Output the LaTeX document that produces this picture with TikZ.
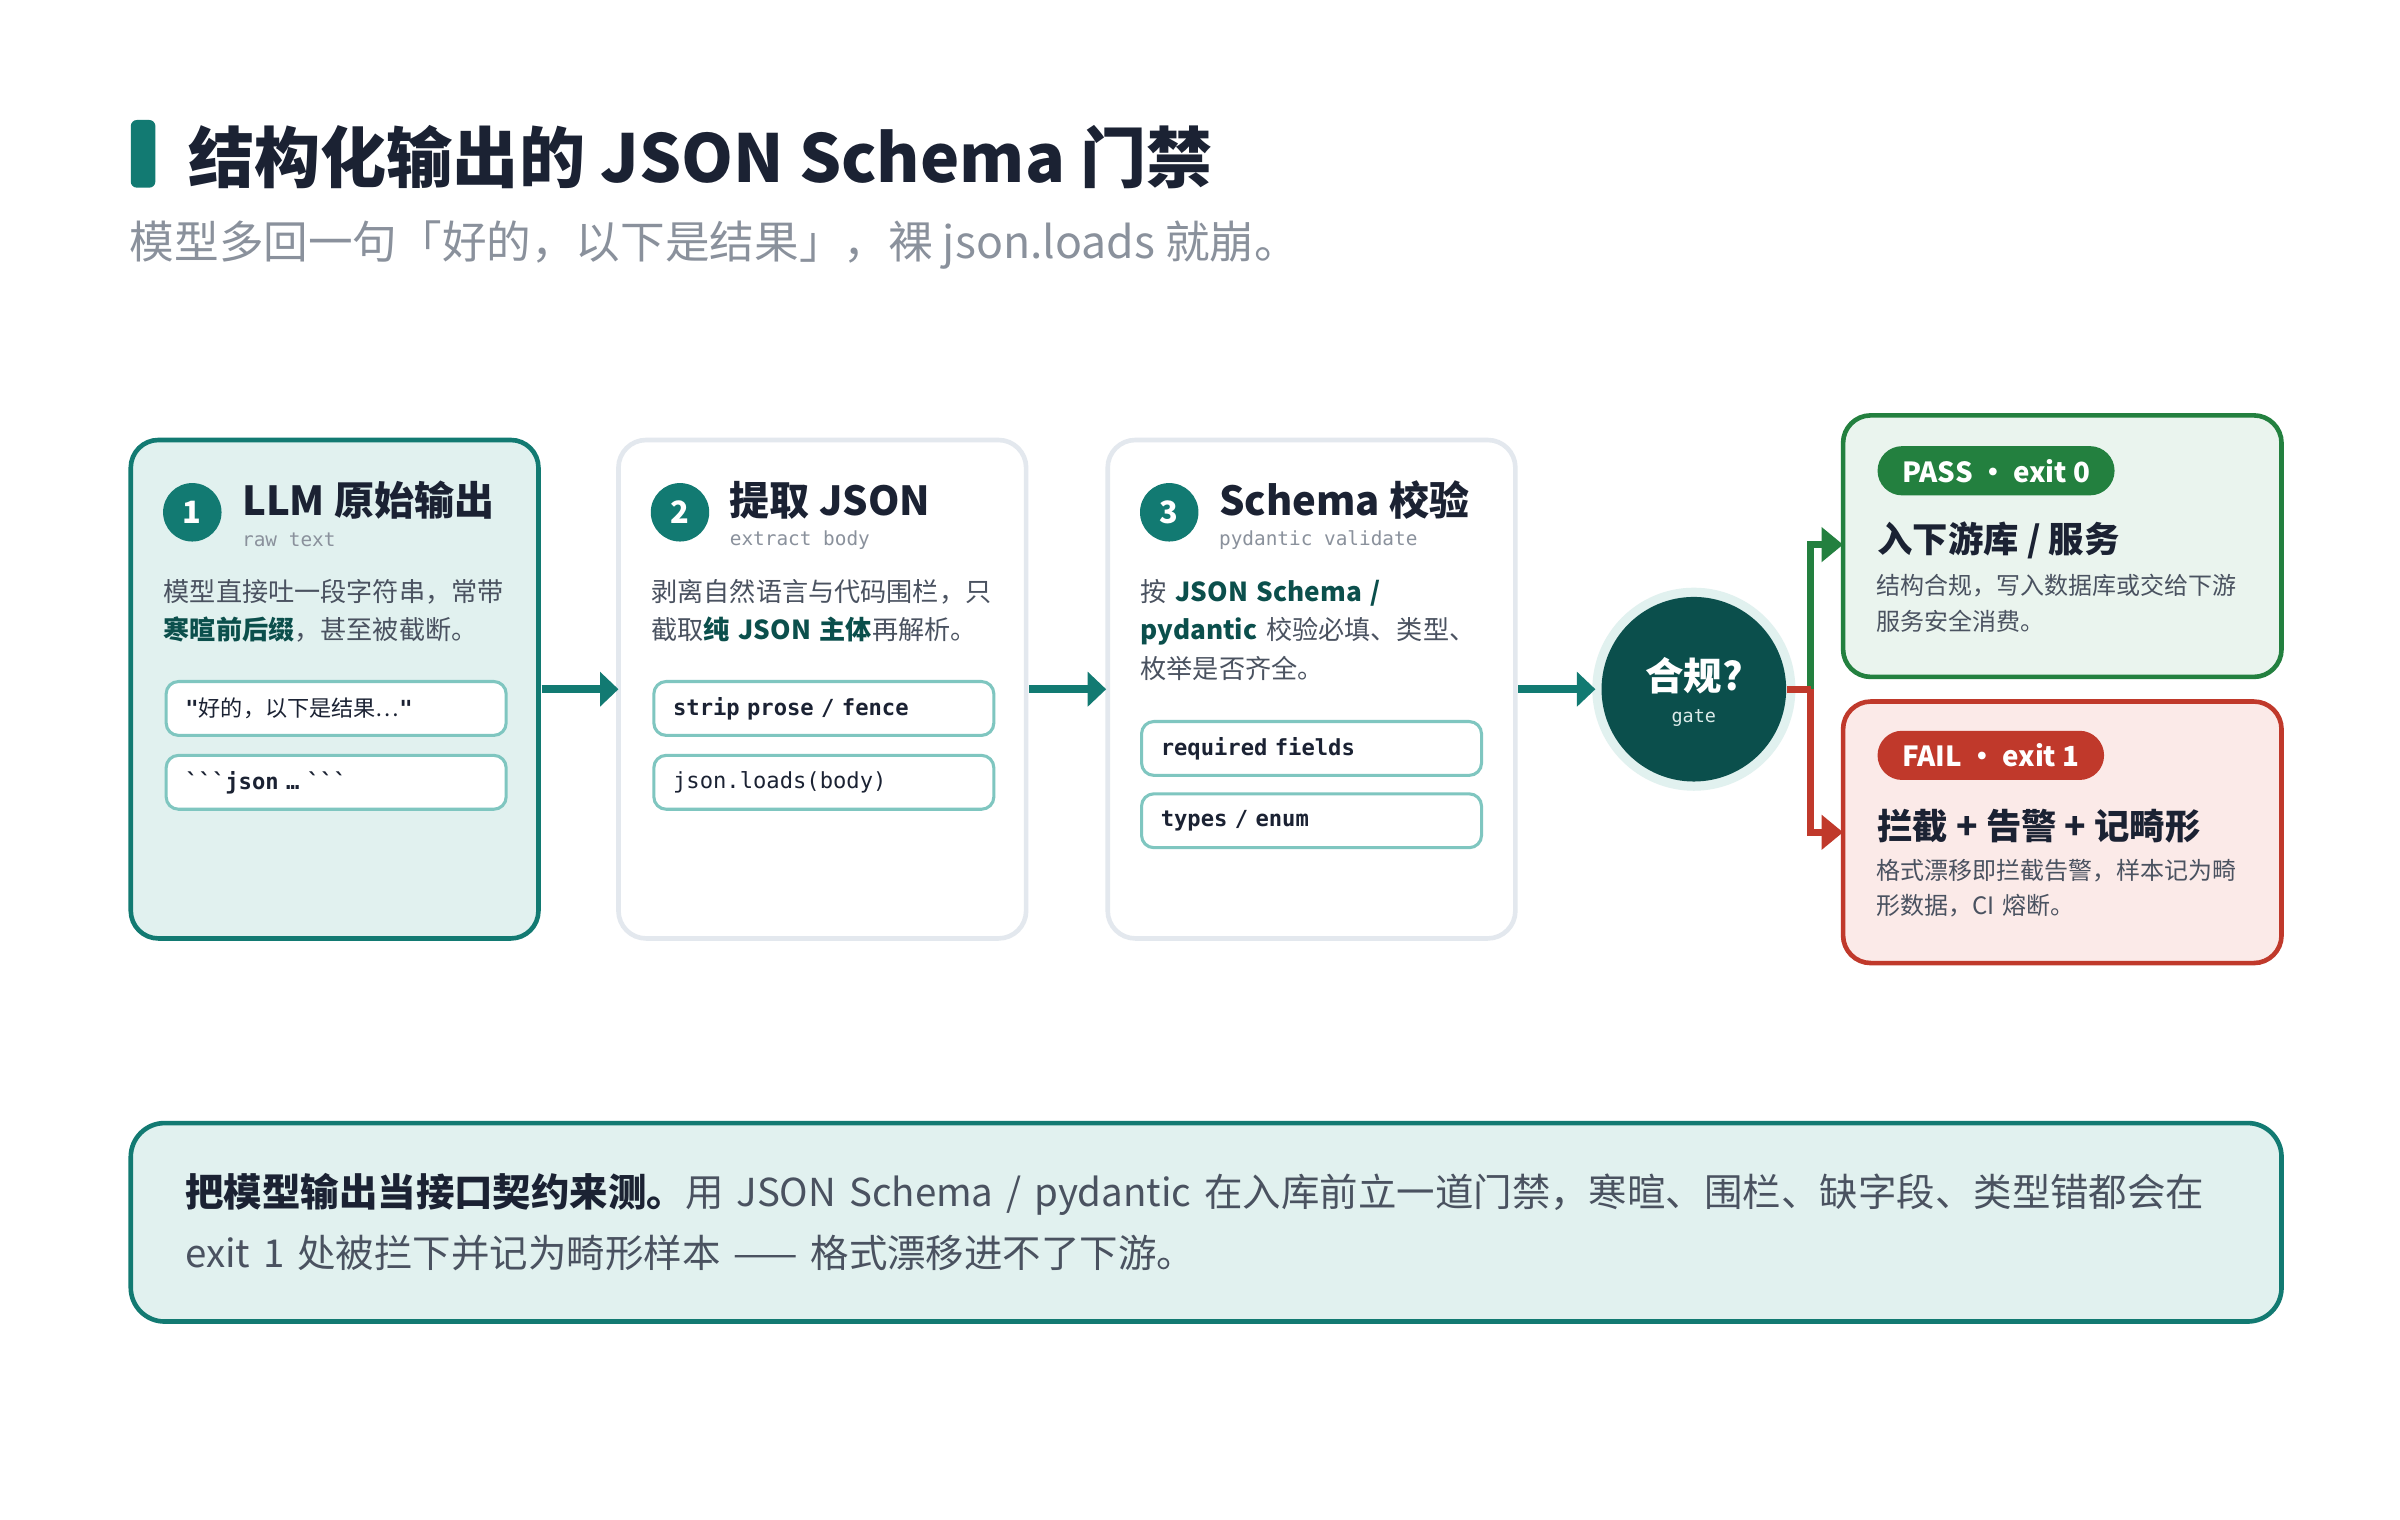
\documentclass[tikz,border=0pt]{standalone}
\usepackage{fontspec}
\setmainfont{Noto Sans CJK SC}
\setmonofont{DejaVu Sans Mono}
\usepackage{tikz}
\usetikzlibrary{positioning,calc,arrows.meta}
\tikzset{>=Triangle}
\definecolor{teal}{HTML}{127A72}
\definecolor{tealdark}{HTML}{0B4F4C}
\definecolor{teallight}{HTML}{E1F1EF}
\definecolor{tealline}{HTML}{7FC6C0}
\definecolor{ink}{HTML}{1B2233}
\definecolor{muted}{HTML}{4A5260}
\definecolor{grey}{HTML}{8A919C}
\definecolor{cardline}{HTML}{E3E8EE}
\definecolor{passg}{HTML}{23803F}
\definecolor{passbg}{HTML}{EAF4EE}
\definecolor{failr}{HTML}{C0392B}
\definecolor{failbg}{HTML}{FBEAE8}
\tikzset{
  card/.style={draw=cardline,line width=1.5pt,fill=white,rounded corners=9pt},
  num/.style={circle,fill=teal,text=white,minimum size=19pt,inner sep=0pt,font=\bfseries\fontsize{10}{10}\selectfont},
  ctitle/.style={anchor=west,inner sep=0pt,text=ink,font=\bfseries\fontsize{13}{14}\selectfont},
  csub/.style={anchor=west,inner sep=0pt,text=grey,font=\ttfamily\fontsize{6.3}{7}\selectfont},
  body/.style={anchor=north west,inner sep=0pt,text=muted,align=left,text width=130pt,font=\fontsize{8.5}{12.5}\selectfont},
  code/.style={draw=tealline,line width=1pt,fill=white,rounded corners=4pt,minimum width=110.5pt,minimum height=17.5pt,
    anchor=north west,align=left,text=ink,inner xsep=6pt,font=\ttfamily\bfseries\fontsize{7.2}{8}\selectfont,text width=98pt},
  flow/.style={draw=teal,line width=2.5pt,-{Triangle[length=6pt,width=11pt]}},
  badge/.style={rounded corners=8pt,text=white,inner xsep=8pt,minimum height=16pt,anchor=west,font=\bfseries\fontsize{9}{10}\selectfont},
  otitle/.style={anchor=west,inner sep=0pt,text=ink,font=\bfseries\fontsize{11.5}{12}\selectfont},
  obody/.style={body,text width=130pt,font=\fontsize{7.8}{11.5}\selectfont},
}
\begin{document}
\begin{tikzpicture}[x=0.5pt,y=-0.5pt]
\useasboundingbox[fill=white] (0,0) rectangle (1560,988);
% title
\fill[teal,rounded corners=2pt] (85,78) rectangle (101,122);
\node[anchor=west,inner sep=0pt,text=ink,font=\bfseries\fontsize{21.5}{24}\selectfont] (title) at (122,102) {结构化输出的 JSON Schema 门禁};
\node[anchor=west,inner sep=0pt,text=grey,font=\fontsize{14.5}{16}\selectfont] (subtitle) at (84,159) {模型多回一句「好的，以下是结果」，裸 json.loads 就崩。};
% cards
\draw[card,draw=teal,fill=teallight] (85,286) rectangle (350,610);
\draw[card] (402,286) rectangle (667,610);
\draw[card] (720,286) rectangle (985,610);
\node[num] (n1) at (125,333) {1};
\node[ctitle] (t1) at (157,325) {LLM 原始输出};
\node[csub] (s1) at (157,351) {raw text};
\node[body] (b1) at (106,376) {模型直接吐一段字符串，常带\\\textbf{\color{tealdark}寒暄前后缀}，甚至被截断。};
\node[code] (c1a) at (107,442) {"\rmfamily\mdseries 好的，以下是结果…\ttfamily\bfseries"};
\node[code] (c1b) at (107,490) {```json … ```};
\node[num] (n2) at (442,333) {2};
\node[ctitle] (t2) at (474,325) {提取 JSON};
\node[csub] (s2) at (474,351) {extract body};
\node[body] (b2) at (423,376) {剥离自然语言与代码围栏，只\\截取\textbf{\color{tealdark}纯 JSON 主体}再解析。};
\node[code] (c2a) at (424,442) {strip prose / fence};
\node[code] (c2b) at (424,490) {\mdseries json.loads(body)};
\node[num] (n3) at (760,333) {3};
\node[ctitle] (t3) at (792,325) {Schema 校验};
\node[csub] (s3) at (792,351) {pydantic validate};
\node[body] (b3) at (741,376) {按 \textbf{\color{tealdark}JSON Schema /}\\\textbf{\color{tealdark}pydantic} 校验必填、类型、\\枚举是否齐全。};
\node[code] (c3a) at (741,468) {required fields};
\node[code] (c3b) at (741,515) {types / enum};
% gate
\fill[teallight] (1101,448) circle[radius=33pt];
\node[circle,fill=tealdark,minimum size=60pt,inner sep=0pt] (gate) at (1101,448) {};
\node[text=white,inner sep=0pt,font=\bfseries\fontsize{12.5}{13}\selectfont] (gl) at (1101,439) {合规?};
\node[text=white!85!teal,inner sep=0pt,font=\ttfamily\fontsize{6}{7}\selectfont] (gs) at (1101,467) {gate};
\coordinate (a1) at (352,448);
\coordinate (a2) at (669,448);
\coordinate (a3) at (987,448);
\draw[flow] (a1) -- (402,448);
\draw[flow] (a2) -- (719,448);
\draw[flow] (a3) -- (1037,448);
% outcomes
\draw[line width=1.5pt,draw=passg,fill=passbg,rounded corners=9pt] (1198,270) rectangle (1483,440);
\draw[line width=1.5pt,draw=failr,fill=failbg,rounded corners=9pt] (1198,456) rectangle (1483,626);
\node[badge,fill=passg] (pass) at (1220,306) {PASS • exit 0};
\node[otitle] (pt) at (1220,351) {入下游库 / 服务};
\node[obody] (pb) at (1219,373) {结构合规，写入数据库或交给下游\\服务安全消费。};
\node[badge,fill=failr] (fail) at (1220,491) {FAIL • exit 1};
\node[otitle] (ft) at (1220,537) {拦截 + 告警 + 记畸形};
\node[obody] (fb) at (1219,558) {格式漂移即拦截告警，样本记为畸\\形数据，CI 熔断。};
\coordinate (split) at (1177,448);
\coordinate (pin) at (1198,354);
\coordinate (fin) at (1198,541);
\draw[passg,line width=2.2pt,-{Triangle[length=7pt,width=11pt]}] (split) -- (split |- pin) -- (pin);
\draw[failr,line width=2.2pt] (gate.east) -- (split);
\draw[failr,line width=2.2pt,-{Triangle[length=7pt,width=11pt]}] (split) -- (split |- fin) -- (fin);
% note
\draw[line width=1.5pt,draw=teal,fill=teallight,rounded corners=11pt] (85,730) rectangle (1483,859);
\node[anchor=north west,inner sep=0pt,text=muted,align=left,text width=675pt,font=\fontsize{12.5}{20}\selectfont] (note) at (120,762) {\textbf{\color{ink}把模型输出当接口契约来测。}用 JSON Schema / pydantic 在入库前立一道门禁，寒暄、围栏、缺字段、类型错都会在\\exit 1 处被拦下并记为畸形样本 —— 格式漂移进不了下游。};
\end{tikzpicture}
\end{document}
